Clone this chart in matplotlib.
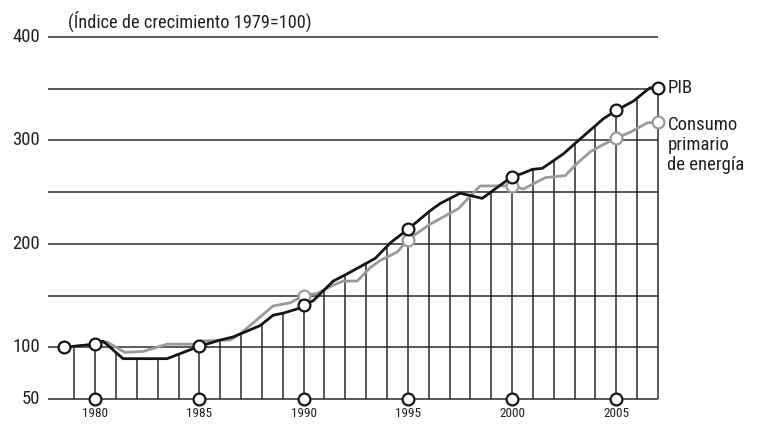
import numpy as np
import matplotlib
matplotlib.use("Agg")
import matplotlib.pyplot as plt

plt.rcParams['font.family'] = ['Roboto Condensed', 'DejaVu Sans']

# PIB (index 1979=100) at fractional-year positions
pib_x = [1978.5, 1980.0, 1980.38, 1981.34, 1983.45, 1985.0, 1986.0, 1986.62, 1987.92,
         1988.54, 1989.02, 1989.84, 1990.0, 1990.46, 1991.42, 1992.09, 1993.44, 1994.16,
         1995.0, 1996.07, 1996.55, 1997.51, 1998.57, 2000.0, 2000.49, 2000.97, 2001.45,
         2002.46, 2003.13, 2004.38, 2005.0, 2005.82, 2006.49, 2006.63, 2007.0]
pib_y = [100, 103, 106, 89, 89, 101, 107, 110, 121,
         131, 133, 138, 141, 145, 164, 171, 186, 201,
         214, 232, 239, 249, 244, 265, 268, 272, 273,
         287, 299, 321, 329, 338, 349, 351, 351]

# Consumo primario de energia
ene_x = [1978.5, 1980.0, 1980.58, 1981.44, 1982.3, 1983.45, 1984.9, 1985.0, 1986.48,
         1986.96, 1988.54, 1989.36, 1990.0, 1990.65, 1991.42, 1991.9, 1992.57, 1993.2,
         1993.68, 1994.49, 1995.0, 1996.07, 1997.42, 1998.47, 2000.0, 2000.54, 2001.59,
         2002.55, 2003.13, 2003.75, 2004.38, 2005.0, 2005.67, 2006.49, 2007.0]
ene_y = [100, 103, 105, 95, 96, 103, 103, 106, 107,
         113, 140, 143, 150, 152, 160, 164, 164, 177,
         184, 192, 204, 219, 234, 256, 256, 253, 264,
         266, 278, 289, 296, 302, 308, 317, 318]

years = np.arange(1979, 2008)
label_years = [1980, 1985, 1990, 1995, 2000, 2005]
grid_vals = [50, 100, 150, 200, 250, 300, 350, 400]
ytick_vals = [50, 100, 200, 300, 400]

fig = plt.figure(figsize=(7.61, 4.24), dpi=100)
ax = fig.add_axes([48/761, 1-399/424, 610/761, 362/424])
x0, x1 = 1977.74, 2007.0
ax.set_xlim(x0, x1)
ax.set_ylim(50, 400)
for s in ax.spines.values():
    s.set_visible(False)
ax.set_xticks([])
ax.set_yticks([])

dark = '#2b2b2b'
grey = '#9a9a9a'

# horizontal grid
ax.hlines(grid_vals, x0, x1, color=dark, lw=1.1, zorder=1, clip_on=False)

# vertical lines from the base up to the PIB curve
tops = np.interp(years, pib_x, pib_y)
ax.vlines(years, 50, tops, color=dark, lw=1.1, zorder=1, clip_on=False)

ax.plot(ene_x, ene_y, color=grey, lw=2.0, zorder=3, clip_on=False)
ax.plot(pib_x, pib_y, color='#151515', lw=2.0, zorder=4, clip_on=False)

mk = dict(marker='o', ms=8.5, mfc='white', mew=1.6, ls='none', clip_on=False)
ene_pts = [1990, 1995, 2000, 2005, 2007]
ax.plot(ene_pts, np.interp(ene_pts, ene_x, ene_y), mec=grey, zorder=5, **mk)
pib_pts = [1978.5] + label_years + [2007]
ax.plot(pib_pts, np.interp(pib_pts, pib_x, pib_y), mec='#151515', zorder=6, **mk)
ax.plot(label_years, [50] * len(label_years), mec='#151515', zorder=6, **mk)

for yr in label_years:
    ax.text(yr, 36, str(yr), ha='center', va='center', fontsize=9.5, color='#222222',
            clip_on=False)
for v in ytick_vals:
    ax.text(1977.35, v, str(v), ha='right', va='center', fontsize=13.5, color='#222222',
            clip_on=False)

ax.text(1978.7, 415, '(Índice de crecimiento 1979=100)', ha='left', va='center',
        fontsize=13.2, color='#222222', clip_on=False)
ax.text(2007.45, 351, 'PIB', ha='left', va='center', fontsize=13.5, color='#222222',
        clip_on=False)
ax.text(2007.45, 324, 'Consumo\nprimario\nde energía', ha='left', va='top',
        fontsize=13.5, color='#222222', linespacing=1.15, clip_on=False)

fig.savefig('out.png', dpi=100)
